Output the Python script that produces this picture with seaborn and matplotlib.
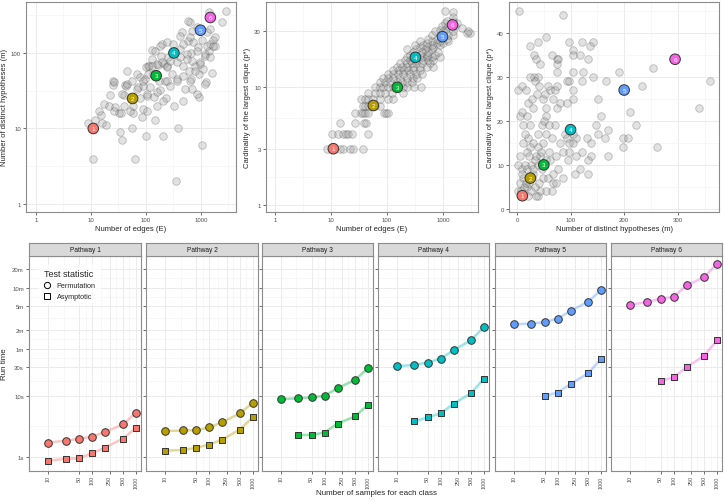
import numpy as np
import pandas as pd
import matplotlib
matplotlib.use("Agg")
import matplotlib.pyplot as plt
import seaborn as sns
from matplotlib.lines import Line2D
from matplotlib.ticker import FixedLocator, NullFormatter, FixedFormatter

sns.set_theme(style="white")
plt.rcParams['font.family'] = ['Liberation Sans', 'DejaVu Sans']

# ---------------- data ----------------
pathway_colors = ['#F8766D', '#B79F00', '#00BA38', '#00BFC4', '#619CFF', '#F564E3']
pathway_labels = ['1', '2', '3', '4', '5', '6']
hl_edges = [11, 57, 153, 322, 980, 1480]
hl_hyp = [10, 25, 50, 100, 200, 295]
hl_clique = [3, 7, 10, 18, 27, 34]

# panel A: edges vs distinct hypotheses
E1 = [9, 11, 12, 15, 16, 19, 17, 21, 22, 25,
      25, 27, 32, 35, 34, 37, 40, 40, 41, 43,
      46, 55, 55, 57, 59, 63, 68, 69, 78, 78,
      83, 87, 89, 96, 100, 103, 107, 113, 118, 126,
      130, 135, 139, 146, 156, 163, 172, 180, 184, 197,
      207, 211, 220, 231, 238, 246, 254, 272, 293, 314,
      327, 350, 359, 370, 387, 415, 447, 464, 478, 512,
      550, 575, 604, 630, 650, 670, 700, 720, 770, 830,
      870, 910, 920, 940, 1030, 1050, 1100, 1190, 1240, 1280,
      1370, 1400, 1450, 1560, 1680, 1800, 2400, 2900, 100, 126,
      156, 193, 238, 275, 416, 476, 549, 676, 776, 832,
      955, 1170, 1260, 1450, 1660, 1790, 631, 476, 416, 676,
      589, 1450, 178, 145, 110, 89, 72, 238, 363, 631,
      832, 1170, 45, 26, 36, 103, 156, 206, 14, 26,
      51, 103]
M1 = [12, 4, 13, 15, 12, 11, 21, 20, 28, 38,
      42, 19, 16, 16, 9, 7, 20, 28, 38, 36,
      57, 42, 10, 16, 20, 4, 53, 33, 48, 25,
      14, 18, 37, 45, 8, 27, 68, 68, 35, 110,
      83, 53, 26, 13, 20, 69, 42, 32, 92, 130,
      8, 71, 42, 25, 140, 68, 88, 36, 53, 130,
      20, 2, 45, 75, 10, 112, 190, 23, 50, 33,
      84, 145, 58, 255, 45, 100, 33, 140, 68, 218,
      120, 26, 53, 75, 6, 150, 62, 92, 41, 192,
      107, 345, 130, 55, 150, 125, 255, 365, 66, 68,
      71, 75, 65, 79, 88, 68, 97, 79, 58, 107,
      71, 97, 125, 88, 125, 162, 162, 132, 170, 198,
      269, 209, 125, 107, 52, 43, 35, 43, 43, 43,
      29, 39, 39, 41, 29, 29, 30, 23, 17, 17,
      17, 17]

# panel B: edges vs largest clique
E2 = [8.6, 14.5, 16.6, 21.8, 25, 38,
      10.3, 13.5, 16.6, 18.6, 20.4, 23.4, 45,
      14.5, 26.8, 38.6, 42,
      26.8, 35, 38, 40.5, 46.5, 88, 95, 105,
      38, 40.5, 45, 61, 75,
      35, 40.5, 46.5, 57, 75, 105, 130,
      46.5, 61, 75, 92, 121, 195,
      61, 75, 86, 105, 130, 195, 225, 300, 400,
      75, 92, 113, 148, 183, 225, 276,
      86, 105, 126, 170, 225, 295, 350,
      105, 130, 160, 195, 255, 335, 415,
      130, 167, 205, 240, 295, 390,
      148, 183, 225, 295, 390, 510, 670,
      170, 225, 276, 335, 415, 585,
      210, 255, 335, 440, 545, 670,
      225, 295, 415, 510, 625, 880,
      255, 390, 510, 720,
      295, 415, 545, 820,
      225, 335, 480, 625,
      390, 510, 670,
      310, 440, 625, 880,
      510, 770, 1010,
      390, 625, 880, 1250,
      545, 770, 1160,
      625, 880, 1250, 1540,
      2650, 3000,
      720, 1010, 1540, 2800,
      880, 1090,
      2150,
      950, 1250, 1650,
      1090, 1780,
      1170, 1540,
      1540,
      1500,
      1090]
P2 = [3, 3, 3, 3, 3, 3,
      4, 4, 4, 4, 4, 4, 4,
      5, 5, 5, 5,
      6, 6, 6, 6, 6, 6, 6, 6,
      7, 7, 7, 7, 7,
      8, 8, 8, 8, 8, 8, 8,
      9, 9, 9, 9, 9, 9,
      10, 10, 10, 10, 10, 10, 10, 10, 10,
      11, 11, 11, 11, 11, 11, 11,
      12, 12, 12, 12, 12, 12, 12,
      13, 13, 13, 13, 13, 13, 13,
      14, 14, 14, 14, 14, 14,
      15, 15, 15, 15, 15, 15, 15,
      16, 16, 16, 16, 16, 16,
      17, 17, 17, 17, 17, 17,
      18, 18, 18, 18, 18, 18,
      19, 19, 19, 19,
      20, 20, 20, 20,
      21, 21, 21, 21,
      22, 22, 22,
      23, 23, 23, 23,
      24, 24, 24,
      25, 25, 25, 25,
      26, 26, 26,
      28, 28, 28, 28,
      29, 29,
      30, 30, 30, 30,
      31, 31,
      32,
      33, 33, 33,
      35, 35,
      37, 37,
      40,
      44,
      45]

# panel C: distinct hypotheses vs largest clique
M3 = [4, 85, 1, 9, 6, 24, 39, 54, 32, 43,
      32, 40, 34, 42, 38, 49, 52, 62, 71, 57,
      75, 74, 77, 75, 75, 66, 74, 67, 54, 21,
      29, 54, 46, 71, 98, 105, 104, 118, 121, 132,
      141, 136, 93, 98, 104, 105, 122, 123, 104, 141,
      80, 93, 167, 191, 152, 157, 211, 233, 253, 222,
      197, 208, 197, 261, 340, 360, 170, 164, 170, 152,
      147, 138, 130, 121, 111, 105, 111, 138, 133, 118,
      108, 133, 80, 90, 94, 98, 105, 85, 98, 96,
      77, 85, 68, 67, 62, 73, 60, 65, 55, 40,
      43, 49, 40, 30, 20, 15, 11, 18, 6, 1,
      9, 18, 27, 34, 40, 54, 30, 12, 6, 18,
      34, 27, 43, 40, 35, 54, 49, 42, 20, 1,
      14, 23, 30, 46, 58, 72, 65, 10, 15, 22,
      25, 8, 12, 16, 28, 36, 45, 50, 60, 25,
      12, 18, 10, 28, 16, 24, 36]
P3 = [45, 44, 27, 28, 21, 37, 38, 39, 35, 33,
      30, 30, 29, 28, 26, 25, 26, 27, 27, 28,
      28, 34, 34, 33, 31, 35, 23, 25, 23, 24,
      23, 21, 19, 19, 38, 36, 35, 35, 38, 34,
      38, 37, 29, 29, 27, 25, 29, 31, 31, 30,
      24, 24, 29, 31, 25, 21, 22, 28, 32, 19,
      16, 16, 14, 14, 23, 29, 18, 16, 12, 17,
      19, 15, 16, 13, 16, 15, 12, 12, 11, 9,
      8, 8, 15, 17, 16, 15, 17, 13, 13, 11,
      9, 7, 6, 8, 11, 12, 13, 16, 17, 14,
      12, 15, 17, 15, 16, 17, 15, 13, 12, 10,
      9, 9, 10, 11, 10, 11, 8, 7, 6, 5,
      5, 4, 4, 3, 3, 4, 7, 6, 3, 4,
      5, 6, 9, 9, 7, 6, 4, 8, 10, 12,
      14, 4, 3, 6, 7, 12, 13, 20, 19, 19,
      19, 21, 22, 25, 27, 30, 34]

# bottom: run times (seconds)
sample_sizes = [10, 25, 50, 100, 200, 500, 1000]
perm_times = [
    [1.72, 1.86, 1.98, 2.16, 2.58, 3.41, 5.31],
    [2.65, 2.72, 2.75, 3.05, 3.73, 5.18, 7.76],
    [8.93, 9.16, 9.5, 10.1, 13.4, 18.4, 28.6],
    [30.8, 32.4, 35.4, 40.7, 56.6, 81.7, 135.5],
    [150, 154, 162, 186, 249, 350, 545],
    [312, 350, 392, 423, 651, 881, 1480],
]
asym_times = [
    [0.87, 0.93, 0.95, 1.15, 1.43, 2.0, 3.0],
    [1.27, 1.30, 1.41, 1.6, 1.93, 2.82, 4.5],
    [np.nan, 2.3, 2.3, 2.52, 3.54, 4.62, 7.2],
    [np.nan, 3.82, 4.45, 5.18, 7.48, 11.1, 19.3],
    [np.nan, np.nan, 10, 11.4, 15.8, 23.4, 40.2],
    [np.nan, np.nan, 17.5, 20.3, 29.7, 45.6, 81.7],
]
time_ticks = [1, 10, 30, 60, 120, 300, 600, 1200]
time_labels = ['1s', '10s', '30s', '1m', '2m', '5m', '10m', '20m']
size_ticks = [10, 50, 100, 250, 500, 1000]
size_labels = ['10', '50', '100', '250', '500', '1000']

# ---------------- figure ----------------
W, H = 724, 502
fig = plt.figure(figsize=(W / 100, H / 100), dpi=100)


def add_ax(x0, y0, x1, y1):
    return fig.add_axes([x0 / W, 1 - y1 / H, (x1 - x0) / W, (y1 - y0) / H])


def gmid(v):
    return [np.sqrt(a * b) for a, b in zip(v[:-1], v[1:])]


def style(ax, xmaj, ymaj, xmin, ymin, tick_fs=4.3):
    ax.set_facecolor('white')
    for s in ax.spines.values():
        s.set_visible(True)
        s.set_color('#8c8c8c')
        s.set_linewidth(0.8)
    ax.xaxis.set_major_locator(FixedLocator(xmaj))
    ax.yaxis.set_major_locator(FixedLocator(ymaj))
    ax.xaxis.set_minor_locator(FixedLocator(xmin))
    ax.yaxis.set_minor_locator(FixedLocator(ymin))
    ax.xaxis.set_minor_formatter(NullFormatter())
    ax.yaxis.set_minor_formatter(NullFormatter())
    ax.grid(True, which='major', color='#EBEBEB', lw=0.7)
    ax.grid(True, which='minor', color='#F3F3F3', lw=0.45)
    ax.set_axisbelow(True)
    ax.tick_params(which='major', length=2.2, width=0.5, color='#333333',
                   labelsize=tick_fs, labelcolor='#4D4D4D', pad=1.5,
                   bottom=True, left=True)
    ax.tick_params(which='minor', length=0)


gray_kw = dict(color='#a0a0a0', edgecolor='#404040', alpha=0.3, s=30, linewidth=0.6)
hl_kw = dict(edgecolor='#333333', s=58, linewidth=0.7, zorder=5)


def highlights(ax, xs, ys):
    df = pd.DataFrame({'x': xs, 'y': ys, 'pw': pathway_labels})
    sns.scatterplot(data=df, x='x', y='y', hue='pw', palette=pathway_colors,
                    legend=False, ax=ax, **hl_kw)
    for x, y, lab in zip(xs, ys, pathway_labels):
        ax.text(x, y, lab, color='white', fontsize=4.5, ha='center', va='center', zorder=6)


# ---- top panel A ----
axA = add_ax(26, 3, 236, 213)
axA.set_xscale('log'); axA.set_yscale('log')
sns.scatterplot(x=E1, y=M1, ax=axA, **gray_kw)
highlights(axA, hl_edges, hl_hyp)
axA.set_xlim(0.658, 4330); axA.set_ylim(0.784, 473)
style(axA, [1, 10, 100, 1000], [1, 10, 100], gmid([0.1, 1, 10, 100, 1000, 10000]),
      gmid([0.1, 1, 10, 100, 1000]))
axA.xaxis.set_major_formatter(FixedFormatter(['1', '10', '100', '1000']))
axA.yaxis.set_major_formatter(FixedFormatter(['1', '10', '100']))
axA.set_xlabel('Number of edges (E)', fontsize=5.5, labelpad=2)
axA.set_ylabel('Number of distinct hypotheses (m)', fontsize=5.5, labelpad=2)

# ---- top panel B ----
axB = add_ax(266, 3, 478, 213)
axB.set_xscale('log'); axB.set_yscale('log')
sns.scatterplot(x=E2, y=P2, ax=axB, **gray_kw)
highlights(axB, hl_edges, hl_clique)
axB.set_xlim(0.69, 4220); axB.set_ylim(0.867, 53.3)
style(axB, [1, 10, 100, 1000], [1, 3, 10, 30], gmid([0.1, 1, 10, 100, 1000, 10000]),
      gmid([1, 3, 10, 30]))
axB.xaxis.set_major_formatter(FixedFormatter(['1', '10', '100', '1000']))
axB.yaxis.set_major_formatter(FixedFormatter(['1', '3', '10', '30']))
axB.set_xlabel('Number of edges (E)', fontsize=5.5, labelpad=2)
axB.set_ylabel('Cardinality of the largest clique (p*)', fontsize=5.5, labelpad=2)

# ---- top panel C ----
axC = add_ax(509, 3, 719, 213)
sns.scatterplot(x=M3, y=P3, ax=axC, **gray_kw)
highlights(axC, hl_hyp, hl_clique)
axC.set_xlim(-14.9, 377); axC.set_ylim(-0.7, 47)
style(axC, [0, 100, 200, 300], [0, 10, 20, 30, 40], [50, 150, 250, 350], [5, 15, 25, 35, 45])
axC.set_xlabel('Number of distinct hypotheses (m)', fontsize=5.5, labelpad=2)
axC.set_ylabel('Cardinality of the largest clique (p*)', fontsize=5.5, labelpad=2)

# ---- bottom facets ----
facet_x = [(29, 141), (146, 258), (262, 373), (378, 489), (495, 606), (611, 722)]
panel_top, panel_bot, strip_top = 256.7, 471.7, 244
for i, (x0, x1) in enumerate(facet_x):
    ax = add_ax(x0, panel_top, x1, panel_bot)
    ax.set_xscale('log'); ax.set_yscale('log')
    col = pathway_colors[i]
    d_perm = pd.DataFrame({'n': sample_sizes, 't': perm_times[i]}).dropna()
    d_asym = pd.DataFrame({'n': sample_sizes, 't': asym_times[i]}).dropna()
    for d, mk, sz in [(d_perm, 'o', 30), (d_asym, 's', 24)]:
        sns.lineplot(data=d, x='n', y='t', color=col, alpha=0.4, lw=1.8, ax=ax,
                     legend=False, estimator=None, sort=True)
        sns.scatterplot(data=d, x='n', y='t', color=col, marker=mk, s=sz,
                        edgecolor='#333333', linewidth=0.7, ax=ax, legend=False, zorder=4)
    ax.set_xlim(3.63, 1300)
    ax.set_ylim(0.596, 1995)
    style(ax, size_ticks, time_ticks, gmid(size_ticks), gmid(time_ticks) + [3000])
    ax.xaxis.set_major_formatter(FixedFormatter(size_labels))
    ax.tick_params(axis='x', labelrotation=90, labelsize=3.9, pad=1)
    if i == 0:
        ax.yaxis.set_major_formatter(FixedFormatter(time_labels))
        ax.set_ylabel('Run time', fontsize=5.8, labelpad=3)
        handles = [Line2D([], [], marker='o', ls='', mfc='none', mec='black', ms=4.5, mew=0.7),
                   Line2D([], [], marker='s', ls='', mfc='none', mec='black', ms=4.3, mew=0.7)]
        leg = ax.legend(handles, ['Permutation', 'Asymptotic'], title='Test statistic',
                        loc='upper left', bbox_to_anchor=(0.06, 0.975), fontsize=5.2,
                        title_fontsize=6.5, frameon=True, fancybox=False,
                        handletextpad=0.8, borderpad=0.6, labelspacing=0.55,
                        handlelength=1.0)
        leg.get_frame().set_facecolor('white')
        leg.get_frame().set_edgecolor('white')
        leg._legend_box.align = 'left'
    else:
        ax.yaxis.set_major_formatter(NullFormatter())
        ax.set_ylabel('')
    ax.set_xlabel('')
    # strip
    sax = add_ax(x0, strip_top, x1, panel_top)
    sax.set_facecolor('#D9D9D9')
    sax.set_xticks([]); sax.set_yticks([])
    for s in sax.spines.values():
        s.set_visible(True); s.set_color('#8c8c8c'); s.set_linewidth(0.8)
    sax.text(0.5, 0.5, f'Pathway {i + 1}', ha='center', va='center',
             fontsize=4.8, color='#1A1A1A', transform=sax.transAxes)

fig.text(376 / W, 1 - 494 / H, 'Number of samples for each class', ha='center',
         va='center', fontsize=5.8)

fig.savefig('out.png', dpi=100)
